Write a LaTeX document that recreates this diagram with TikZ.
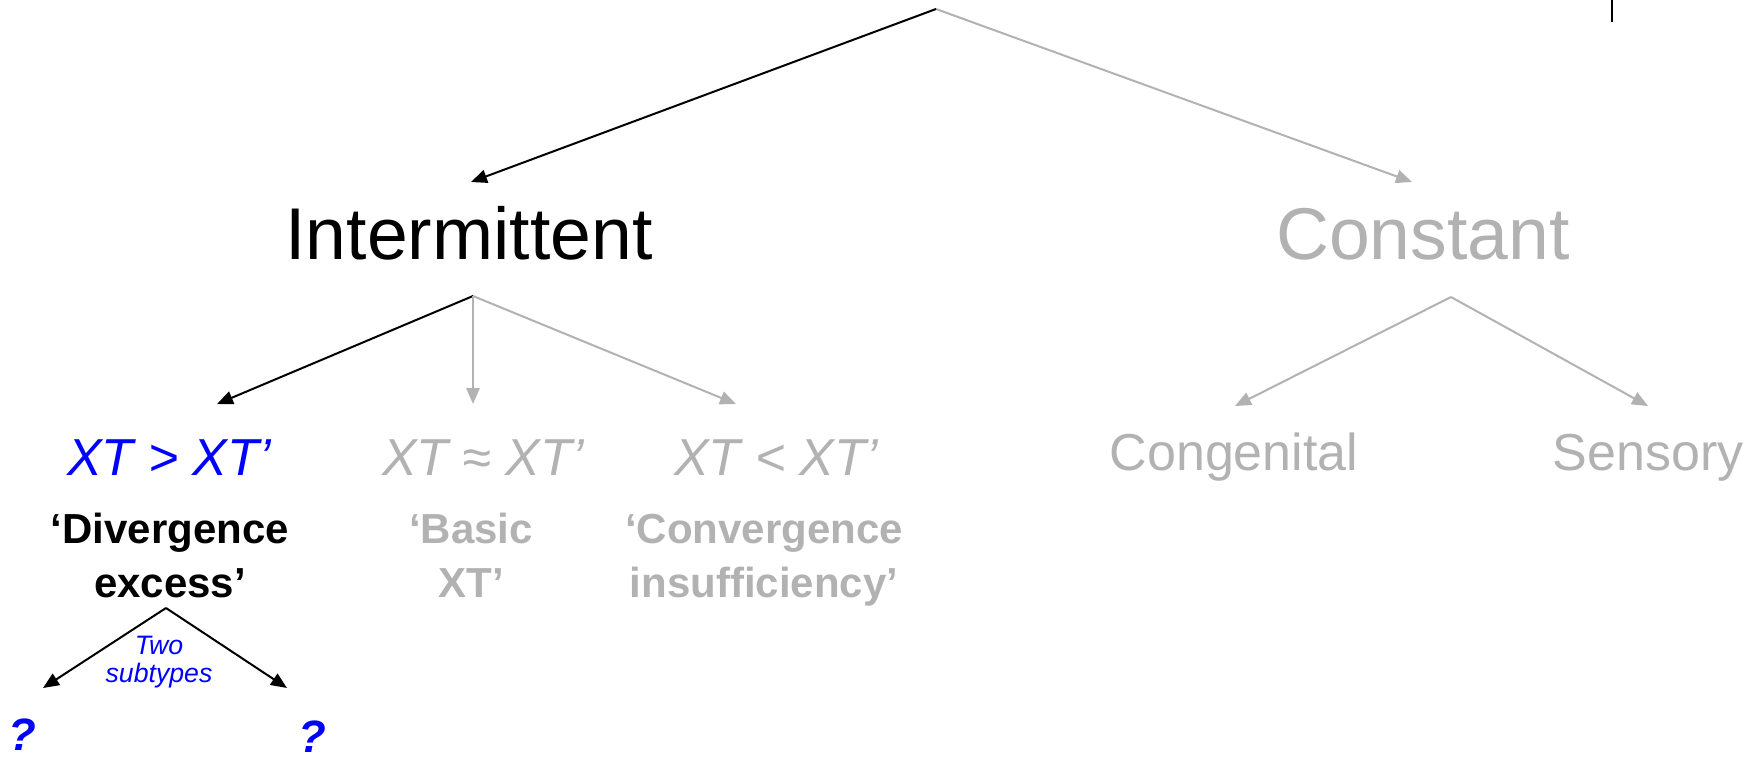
\documentclass[tikz,border=0pt]{standalone}
\usepackage{fontspec}
\setmainfont{Liberation Sans}
\usetikzlibrary{arrows.meta}
\definecolor{mute}{RGB}{178,178,178}
\definecolor{accent}{RGB}{0,0,255}
\tikzset{
  link/.style={line width=1.5pt, -{Triangle[length=12pt,width=10pt]}},
  live/.style={link, black},
  dim/.style={link, mute},
  lbl/.style={inner sep=0pt, anchor=base},
  top/.style={lbl, font=\fontsize{55}{60}\selectfont},
  ratio/.style={lbl, font=\fontsize{39}{45}\selectfont\itshape},
  kind/.style={lbl, font=\fontsize{39}{45}\selectfont},
  alias/.style={lbl, align=center, font=\fontsize{31.5}{40.5}\selectfont\bfseries},
  note/.style={lbl, align=center, font=\fontsize{20}{21}\selectfont\itshape, text=accent},
  ask/.style={lbl, font=\fontsize{34}{40}\selectfont\bfseries\itshape, text=accent},
}
\begin{document}
\begin{tikzpicture}[x=0.75pt,y=-0.75pt]
\useasboundingbox (0,0) rectangle (1760,757);

% level 1
\node[top] (int) at (469,259) {Intermittent};
\node[top, text=mute] (con) at (1423,259) {Constant};

% level 2
\node[ratio, text=accent] (gt) at (169,475) {XT > XT’};
\node[ratio, text=mute] (ap) at (483,475) {XT ≈ XT’};
\node[ratio, text=mute] (lt) at (776,475) {XT < XT’};
\node[kind, text=mute] (cg) at (1234,470) {Congenital};
\node[kind, text=mute] (se) at (1648,470) {Sensory};

% common names (anchored on the last line)
\node[alias] (de) at (170,597) {‘Divergence\\excess’};
\node[alias, text=mute] (bx) at (471,597) {‘Basic\\XT’};
\node[alias, text=mute] (ci) at (764,597) {‘Convergence\\insufficiency’};

% subtypes
\node[note] (two) at (159,682) {Two\\subtypes};
\node[ask] (q1) at (22,750) {?};
\node[ask] (q2) at (312,752) {?};

% branch points and arrow ends
\coordinate (root) at (936,9);
\coordinate (rootL) at (471,182);
\coordinate (rootR) at (1412,182);
\coordinate (intB) at (473,296);
\coordinate (intL) at (217,404);
\coordinate (intM) at (473,404);
\coordinate (intR) at (736,404);
\coordinate (conB) at (1451,297);
\coordinate (conL) at (1235,406);
\coordinate (conR) at (1648,406);
\coordinate (divB) at (166,608);
\coordinate (divL) at (43,688);
\coordinate (divR) at (287,688);

\draw[dim] (root) -- (rootR);
\draw[live] (root) -- (rootL);
\draw[live] (intB) -- (intL);
\draw[dim] (intB) -- (intM);
\draw[dim] (intB) -- (intR);
\draw[dim] (conB) -- (conL);
\draw[dim] (conB) -- (conR);
\draw[live] (divB) -- (divL);
\draw[live] (divB) -- (divR);

% marker at top right
\coordinate (tickA) at (1612,0);
\coordinate (tickB) at (1612,22);
\draw[line width=1.5pt] (tickA) -- (tickB);
\end{tikzpicture}
\end{document}
